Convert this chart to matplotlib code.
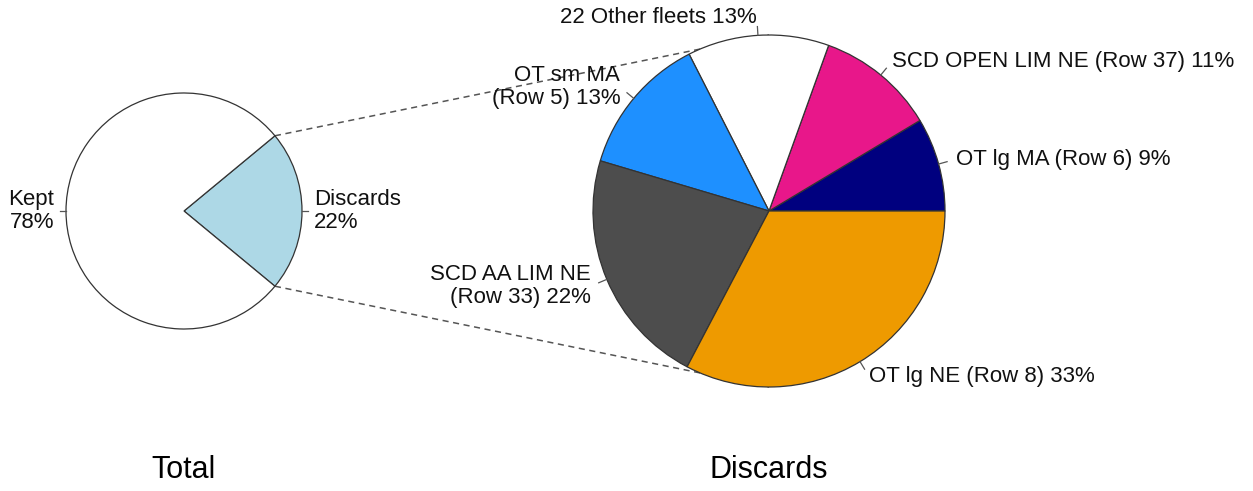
import numpy as np
import matplotlib
matplotlib.use("Agg")
import matplotlib.pyplot as plt

plt.rcParams["font.family"] = ["Liberation Sans", "DejaVu Sans"]

# data
total_labels = ["Discards\n22%", "Kept\n78%"]
total_values = [22, 78]
total_colors = ["#ADD8E6", "white"]

disc_labels = ["OT lg MA (Row 6) 9%", "SCD OPEN LIM NE (Row 37) 11%",
               "22 Other fleets 13%", "OT sm MA\n(Row 5) 13%",
               "SCD AA LIM NE\n(Row 33) 22%", "OT lg NE (Row 8) 33%"]
disc_values = [8.6, 10.9, 13.0, 12.9, 21.9, 32.7]
disc_colors = ["#00007F", "#E8178A", "white", "#1E90FF", "#4D4D4D", "#EE9A00"]

W, H = 1253, 491
fig = plt.figure(figsize=(W / 100, H / 100), dpi=100)
ax = fig.add_axes([0, 0, 1, 1])

c1, r1 = (184, H - 211), 118
c2, r2 = (769, H - 211), 176
edge = dict(edgecolor="#333333", linewidth=0.9)

start1 = -360 * total_values[0] / sum(total_values) / 2
w1, t1 = ax.pie(total_values, labels=total_labels, colors=total_colors,
                startangle=start1, counterclock=True, center=c1, radius=r1,
                labeldistance=1.1, wedgeprops=edge,
                textprops=dict(fontsize=16))
w2, t2 = ax.pie(disc_values, labels=disc_labels, colors=disc_colors,
                startangle=0, counterclock=True, center=c2, radius=r2,
                labeldistance=1.1, wedgeprops=edge,
                textprops=dict(fontsize=16))

# small leader ticks and label alignment
for wedges, texts, c, r in [(w1, t1, c1, r1), (w2, t2, c2, r2)]:
    for w, t in zip(wedges, texts):
        a = np.deg2rad((w.theta1 + w.theta2) / 2)
        ax.plot([c[0] + r * np.cos(a), c[0] + 1.05 * r * np.cos(a)],
                [c[1] + r * np.sin(a), c[1] + 1.05 * r * np.sin(a)],
                color="#555555", lw=0.9)
        ha = "left" if np.cos(a) > 0 else "right"
        t.set_horizontalalignment(ha)
        t.set_multialignment(ha)
        t.set_linespacing(1.1)
        t.set_color("#111111")

# dashed connectors from discards wedge to right pie
d = w1[0]
for ang, sign in [(d.theta2, 1), (d.theta1, -1)]:
    a = np.deg2rad(ang)
    ax.plot([c1[0] + r1 * np.cos(a), c2[0]],
            [c1[1] + r1 * np.sin(a), c2[1] + sign * r2],
            color="#555555", lw=1.1, ls=(0, (4, 3)), zorder=0)

ax.text(c1[0], H - 470, "Total", ha="center", va="center", fontsize=22)
ax.text(c2[0], H - 470, "Discards", ha="center", va="center", fontsize=22)

ax.set_xlim(0, W)
ax.set_ylim(0, H)
ax.set_aspect("equal")
ax.axis("off")

plt.savefig("out.png", dpi=100)
plt.close()
